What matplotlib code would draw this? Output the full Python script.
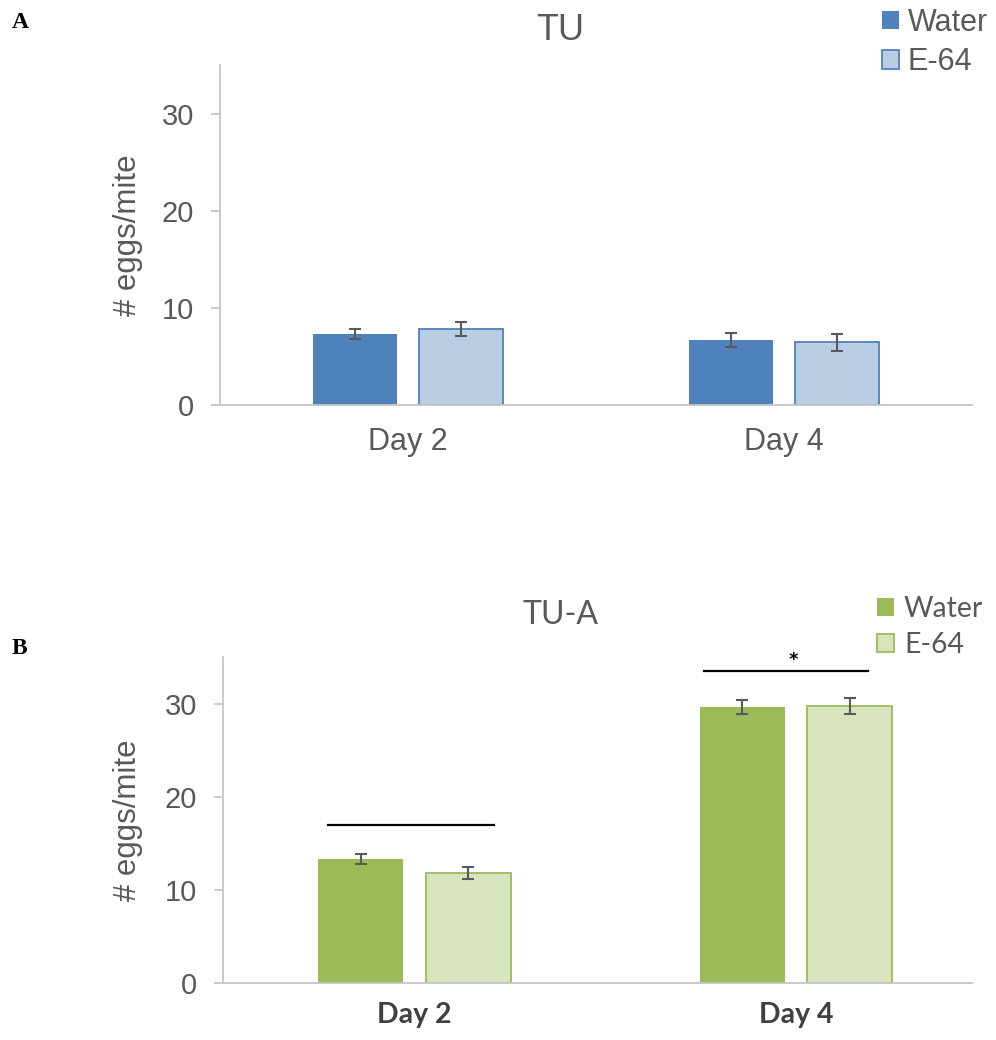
import numpy as np
import matplotlib
matplotlib.use('Agg')
import matplotlib.pyplot as plt
from matplotlib.patches import Patch

days = ['Day 2', 'Day 4']
series = ['Water', 'E-64']

# panel A (TU)
tu_water = [7.3, 6.7]
tu_water_err = [0.55, 0.75]
tu_e64 = [7.8, 6.45]
tu_e64_err = [0.7, 0.9]

# panel B (TU-A)
tua_water = [13.3, 29.6]
tua_water_err = [0.55, 0.75]
tua_e64 = [11.85, 29.75]
tua_e64_err = [0.65, 0.85]
# significance bars: x from, x to, y, label
sig_lines = [(-0.227, 0.208, 17.0, ''), (0.759, 1.189, 33.5, '*')]

grey = '#595959'
axis_grey = '#c6c6c6'

fig = plt.figure(figsize=(9.96, 10.4), dpi=100)
axA = fig.add_axes([220 / 996, 1 - 405 / 1040, 752 / 996, 340 / 1040])
axB = fig.add_axes([223 / 996, 1 - 983 / 1040, 749 / 996, 326 / 1040])

w = 0.223
off = 0.141
ekw = dict(ecolor=grey, elinewidth=1.5, capsize=4.3, capthick=1.5)


def style_axis(ax):
    ax.set_ylim(0, 35)
    ax.set_yticks([0, 10, 20, 30])
    for s in ['top', 'right']:
        ax.spines[s].set_visible(False)
    for s in ['left', 'bottom']:
        ax.spines[s].set_color(axis_grey)
        ax.spines[s].set_linewidth(1.3)
    ax.tick_params(axis='y', length=6.5, width=1.3, color=axis_grey, pad=12,
                   labelcolor=grey, labelsize=21)
    ax.tick_params(axis='x', length=0, pad=16, labelcolor=grey)
    for lab in ax.get_yticklabels():
        lab.set_fontfamily('Liberation Sans')


x = np.arange(len(days))

# ---- A ----
axA.bar(x - off, tu_water, w, color='#4F81BD', yerr=tu_water_err, error_kw=ekw)
axA.bar(x + off, tu_e64, w, color='#B9CDE5', edgecolor='#4F81BD', linewidth=1.3,
        yerr=tu_e64_err, error_kw=ekw)
axA.set_xlim(-0.5, 1.5)
axA.set_xticks(x)
axA.set_xticklabels(days, fontsize=22, family='Liberation Sans')
style_axis(axA)
axA.set_ylabel('# eggs/mite', fontsize=22.5, color=grey, family='Liberation Sans')
axA.yaxis.set_label_coords(-0.103, 0.5)
fig.text(560 / 996, 1 - 31 / 1040, 'TU', fontsize=26, color=grey,
         family='Liberation Sans', ha='center', va='center')
fig.legend(handles=[Patch(facecolor='#4F81BD', label='Water'),
                    Patch(facecolor='#B9CDE5', edgecolor='#4F81BD', linewidth=1.3, label='E-64')],
           loc='upper left', bbox_to_anchor=(882 / 996, 1 - 8 / 1040), frameon=False,
           borderpad=0, borderaxespad=0,
           prop={'family': 'Liberation Sans', 'size': 22}, labelcolor=grey,
           handlelength=0.55, handleheight=0.55, handletextpad=0.3, labelspacing=0.3)

# ---- B ----
axB.bar(x - off, tua_water, w, color='#9BBB59', yerr=tua_water_err, error_kw=ekw)
axB.bar(x + off, tua_e64, w, color='#D7E4BD', edgecolor='#9BBB59', linewidth=1.3,
        yerr=tua_e64_err, error_kw=ekw)
axB.set_xlim(-0.502, 1.461)
axB.set_xticks(x)
axB.set_xticklabels(days, fontsize=20.5, family='Lato', fontweight='bold', color='#404040')
style_axis(axB)
axB.tick_params(axis='x', pad=14, labelcolor='#404040')
axB.set_ylabel('# eggs/mite', fontsize=22.5, color=grey, family='Liberation Sans')
axB.yaxis.set_label_coords(-0.107, 0.5)
fig.text(560 / 996, 1 - 615 / 1040, 'TU-A', fontsize=23, color=grey,
         family='Lato', ha='center', va='center')
for x0, x1, yi, txt in sig_lines:
    axB.plot([x0, x1], [yi, yi], color='black', lw=1.6, clip_on=False)
    if txt:
        axB.text((x0 + x1) / 2 + 0.02, yi + 0.2, txt, ha='center', va='bottom',
                 fontsize=13, fontweight='bold')
fig.legend(handles=[Patch(facecolor='#9BBB59', label='Water'),
                    Patch(facecolor='#D7E4BD', edgecolor='#9BBB59', linewidth=1.3, label='E-64')],
           loc='upper left', bbox_to_anchor=(877 / 996, 1 - 596 / 1040), frameon=False,
           borderpad=0, borderaxespad=0,
           prop={'family': 'Lato', 'size': 20.5}, labelcolor=grey,
           handlelength=0.6, handleheight=0.6, handletextpad=0.35, labelspacing=0.35)

fig.text(12 / 996, 1 - 22 / 1040, 'A', fontsize=17, fontweight='bold',
         family='Liberation Serif', va='center')
fig.text(12 / 996, 1 - 648 / 1040, 'B', fontsize=17, fontweight='bold',
         family='Liberation Serif', va='center')

fig.savefig('out.png', dpi=100)
